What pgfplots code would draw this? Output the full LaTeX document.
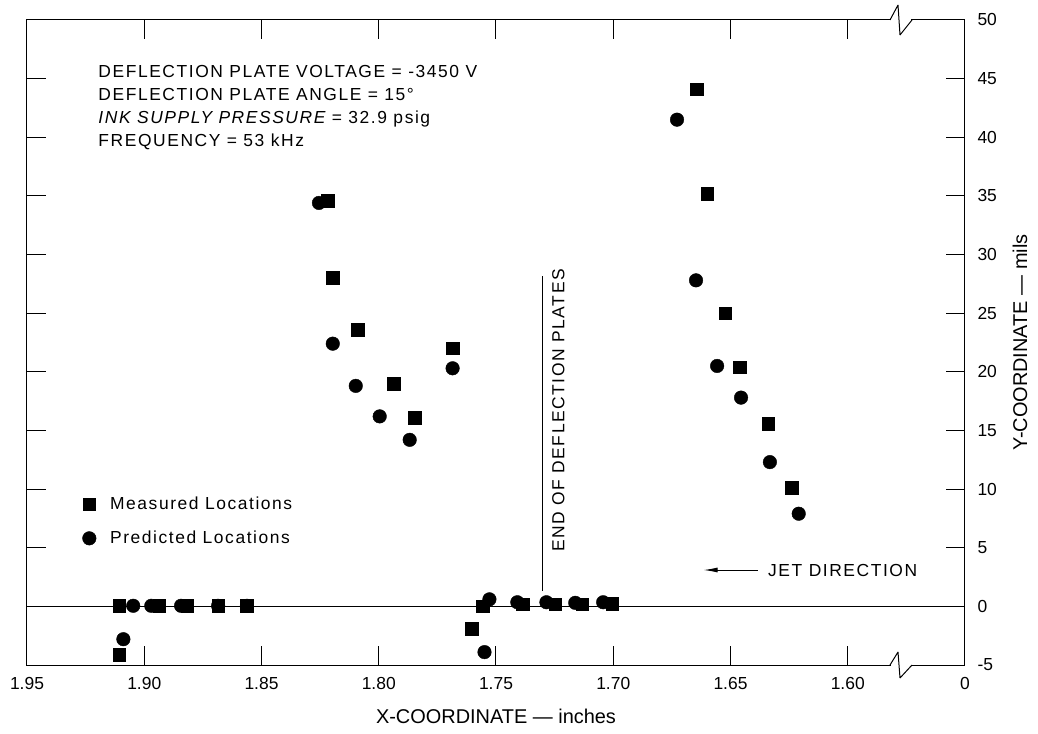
\documentclass[border=0pt]{standalone}
\usepackage{fontspec}
\setmainfont{Liberation Sans}
\newfontfamily\spaced{Liberation Sans}[LetterSpace=9]
\usepackage{pgfplots}
\pgfplotsset{compat=1.18}
\usetikzlibrary{arrows.meta}
\newcommand\fs{\fontsize{17.5}{21}\selectfont}
\newcommand\fa{\spaced\fontsize{17.5}{21}\selectfont}
\newcommand\fl{\fontsize{20}{24}\selectfont}

\begin{document}
\begin{tikzpicture}
\begin{axis}[
  scale only axis, width=938bp, height=645bp,
  x dir=reverse, xmin=1.55, xmax=1.95, ymin=-5, ymax=50,
  clip=false,
  axis line style={line width=1bp},
  tick style={line width=1bp, black},
  xtick={1.55,1.60,1.65,1.70,1.75,1.80,1.85,1.90,1.95},
  xticklabels={0,1.60,1.65,1.70,1.75,1.80,1.85,1.90,1.95},
  ytick={-5,0,5,10,15,20,25,30,35,40,45,50},
  yticklabels={-5,0,5,10,15,20,25,30,35,40,45,50},
  tick align=inside, major tick length=19bp,
  xtick pos=both, ytick pos=both, yticklabel pos=right,
  /pgf/number format/assume math mode=true,
  xticklabel style={font=\fs, yshift=-9bp},
  yticklabel style={font=\fs, xshift=9bp, anchor=west},
  xlabel={X-COORDINATE --- inches},
  ylabel={Y-COORDINATE --- mils},
  xlabel style={font=\fl, at={(axis description cs:0.5,-0.079)}, anchor=center},
  ylabel style={font=\fl, at={(axis description cs:1.0586,0.5)}, anchor=center, rotate=0},
  legend style={draw=none, fill=none, at={(axis cs:1.9264,9.5)}, anchor=north west,
    font=\fa, row sep=16bp, inner sep=0pt,
    /tikz/every odd column/.append style={column sep=12bp}},
  legend cell align=left,
  legend image code/.code={\draw[#1] plot coordinates {(0bp,0bp)};},
]
\coordinate (sw) at (axis description cs:0,0);
\coordinate (ne) at (axis description cs:1,1);
\draw[line width=0.9bp] (axis cs:1.95,0) -- (axis cs:1.55,0);

\addplot[only marks, mark=square*, mark size=6.3bp, black] coordinates {
(1.9106,-4.1) (1.9106,0.05) (1.8936,0.05) (1.8817,0.05) (1.8685,0.05) (1.8562,0.05)
(1.8217,34.6) (1.8196,28.0) (1.8089,23.6) (1.7936,19.0) (1.7847,16.1) (1.7685,22.0)
(1.7604,-1.9) (1.7557,0.0) (1.7387,0.2) (1.7247,0.2) (1.7132,0.2) (1.7004,0.25)
(1.6643,44.1) (1.6600,35.2) (1.6523,25.0) (1.6460,20.4) (1.6340,15.6) (1.6238,10.1)
};
\addlegendentry{Measured Locations}
\addplot[only marks, mark=*, mark size=6.8bp, black] coordinates {
(1.9089,-2.8) (1.9047,0.05) (1.8970,0.05) (1.8843,0.05) (1.8685,0.05) (1.8562,0.05)
(1.8255,34.4) (1.8196,22.4) (1.8098,18.8) (1.7996,16.2) (1.7868,14.2) (1.7685,20.3)
(1.7549,-3.9) (1.7528,0.6) (1.7409,0.35) (1.7285,0.35) (1.7162,0.3) (1.7043,0.35)
(1.6728,41.5) (1.6647,27.8) (1.6557,20.5) (1.6455,17.8) (1.6332,12.3) (1.6209,7.9)
};
\addlegendentry{Predicted Locations}

\node[anchor=base west, inner sep=0, font=\fa] at (axis cs:1.9196,45.13) {DEFLECTION PLATE VOLTAGE = -3450 V};
\node[anchor=base west, inner sep=0, font=\fa] at (axis cs:1.9196,43.16) {DEFLECTION PLATE ANGLE = 15°};
\node[anchor=base west, inner sep=0, font=\fa] at (axis cs:1.9196,41.20) {\itshape INK SUPPLY PRESSURE \upshape = 32.9 psig};
\node[anchor=base west, inner sep=0, font=\fa] at (axis cs:1.9196,39.23) {FREQUENCY = 53 kHz};

\draw[line width=0.9bp] (axis cs:1.7302,1.3) -- (axis cs:1.7302,28.2);
\node[rotate=90, inner sep=0, font=\fa] at (axis cs:1.7234,16.7) {END OF DEFLECTION PLATES};

\draw[line width=1bp, -{Latex[length=14bp,width=5bp]}] (axis cs:1.6383,3.1) -- (axis cs:1.6615,3.1);
\node[anchor=west, inner sep=0, font=\fa] at (axis cs:1.6340,3.1) {JET DIRECTION};
\end{axis}
% axis breaks
\fill[white] ([shift={(864bp,642bp)}]sw) rectangle ++(20bp,6bp);
\draw[line width=1bp, line join=bevel] ([shift={(863bp,645bp)}]sw) -- ++(8bp,15bp) -- ++(2bp,-30bp) -- ++(12bp,15bp);
\fill[white] ([shift={(864bp,-3bp)}]sw) rectangle ++(20bp,6bp);
\draw[line width=1bp, line join=bevel] ([shift={(863bp,0bp)}]sw) -- ++(8bp,13bp) -- ++(2bp,-26bp) -- ++(12bp,13bp);
\pgfresetboundingbox
\path ([xshift=-27bp,yshift=-69bp]sw) rectangle ([xshift=73bp,yshift=20bp]ne);
\end{tikzpicture}
\end{document}
